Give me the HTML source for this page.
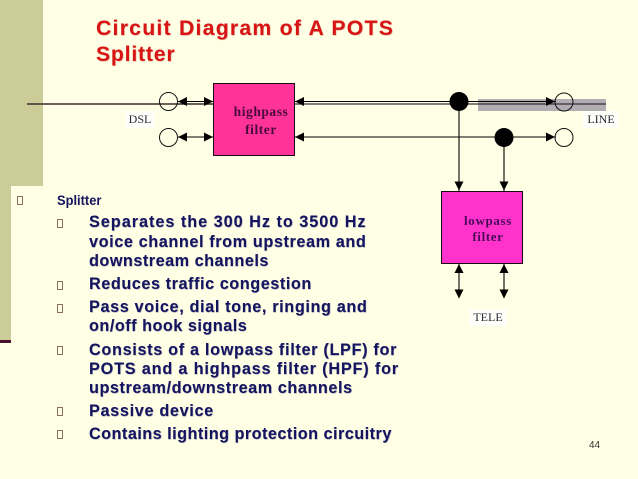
<!DOCTYPE html>
<html><head><meta charset="utf-8"><style>
html,body{margin:0;padding:0}
body{width:638px;height:479px;overflow:hidden;background:#ffffe5;position:relative;font-family:"Liberation Sans",sans-serif}
.t{position:absolute;white-space:nowrap}
.b{font-weight:bold;font-size:16.2px;line-height:19px;color:#14145f;left:89px;text-shadow:.4px .4px .6px #8a8aa8}
.m{position:absolute;width:4px;height:6.5px;border:1px solid #8a6f60;background:#ffffe5}
</style></head><body>
<div class="t" style="left:0;top:0;width:43px;height:186px;background:#cccc99"></div>
<div class="t" style="left:0;top:186px;width:11px;height:154px;background:#cccc99"></div>
<div class="t" style="left:0;top:340px;width:11px;height:3px;background:#4a1030"></div>
<div class="t" style="left:96px;top:16px;font-size:21.2px;line-height:26px;font-weight:bold;color:#d81414;letter-spacing:1.25px;text-shadow:.5px .5px .7px #d9a090">Circuit Diagram of A POTS</div>
<div class="t" style="left:96px;top:42px;font-size:21.2px;line-height:26px;font-weight:bold;color:#d81414;letter-spacing:.8px;text-shadow:.5px .5px .7px #d9a090">Splitter</div>
<svg class="t" style="left:0;top:0" width="638" height="479" viewBox="0 0 638 479">
<rect x="478" y="99" width="128" height="12" fill="#b0aeb0"/>
<line x1="27" y1="104" x2="213" y2="104" stroke="#3d2a2a" stroke-width="1.4"/>
<line x1="178" y1="101.500" x2="213" y2="101.500" stroke="#000" stroke-width="1"/>
<line x1="295" y1="101.500" x2="459" y2="101.500" stroke="#000" stroke-width="1.1"/>
<line x1="295" y1="104" x2="606" y2="104" stroke="#3d2a3a" stroke-width="1.2"/>
<line x1="459" y1="101.500" x2="556" y2="101.500" stroke="#000" stroke-width="1"/>
<line x1="178" y1="137" x2="213" y2="137" stroke="#000" stroke-width="1.1"/>
<line x1="295" y1="137" x2="556" y2="137" stroke="#000" stroke-width="1.1"/>
<line x1="459" y1="102" x2="459" y2="191" stroke="#000" stroke-width="1.1"/>
<line x1="504" y1="137" x2="504" y2="191" stroke="#000" stroke-width="1.1"/>
<line x1="459" y1="263" x2="459" y2="298" stroke="#000" stroke-width="1.1"/>
<line x1="504" y1="263" x2="504" y2="298" stroke="#000" stroke-width="1.1"/>
<rect x="213.500" y="83.500" width="81" height="72" fill="#ff3399" stroke="#1a0a14" stroke-width="1"/>
<rect x="441.500" y="191.500" width="81" height="72" fill="#ff33cc" stroke="#1a0a14" stroke-width="1"/>
<g fill="none" stroke="#111" stroke-width="1">
<circle cx="168.500" cy="101.500" r="9"/><circle cx="168.500" cy="137.500" r="9"/>
<circle cx="564" cy="102" r="9"/><circle cx="564" cy="137.500" r="9"/>
</g>
<circle cx="459" cy="101.500" r="9.500" fill="#000"/>
<circle cx="504" cy="137.500" r="9.500" fill="#000"/>
<g fill="#000">
<path d="M178 101.500l9-4.500v9zM213 101.500l-9-4.500v9z"/>
<path d="M178 137l9-4.500v9zM213 137l-9-4.500v9z"/>
<path d="M295 101.500l9-4.500v9zM295 137l9-4.500v9z"/>
<path d="M555 101.500l-9-4.500v9zM555 137l-9-4.500v9z"/>
<path d="M459 190.500l-4.500-9h9zM504 190.500l-4.500-9h9z"/>
<path d="M459 264l-4.500 9h9zM504 264l-4.500 9h9z"/>
<path d="M459 298.500l-4.500-9h9zM504 298.500l-4.500-9h9z"/>
</g>
</svg>
<div class="t" style="left:125px;top:111px;width:30px;height:17px;background:#fffffa;font:12px/17px 'Liberation Serif',serif;color:#2a2a3a;text-align:center">DSL</div>
<div class="t" style="left:583px;top:111px;width:36px;height:17px;background:#fffffa;font:12px/17px 'Liberation Serif',serif;color:#2a2a3a;text-align:center">LINE</div>
<div class="t" style="left:469px;top:309px;width:38px;height:17px;background:#fffffa;font:12px/17px 'Liberation Serif',serif;color:#2a2a3a;text-align:center">TELE</div>
<div class="t" style="left:233px;top:103px;width:56px;text-align:center;font:bold 13.5px/18px 'Liberation Serif',serif;letter-spacing:.55px;color:#4a0a3a">highpass<br>filter</div>
<div class="t" style="left:463px;top:212.500px;width:50px;text-align:center;font:bold 13px/16.500px 'Liberation Serif',serif;color:#4a0a5a;letter-spacing:.65px">lowpass<br>filter</div>
<div class="t" style="left:11px;top:186px;width:400px;height:250px;background:#ffffe5"></div>
<div class="m" style="left:17px;top:196px"></div>
<div class="t" style="left:57px;top:191px;font-size:14px;line-height:18px;color:#14145f;font-weight:bold;transform:scaleX(.92);transform-origin:left;">Splitter</div>
<div class="m" style="left:57px;top:219px"></div>
<div class="t b" style="top:213px;letter-spacing:1px">Separates the 300 Hz to 3500 Hz</div>
<div class="t b" style="top:232.500px;letter-spacing:.62px">voice channel from upstream and</div>
<div class="t b" style="top:251.500px;letter-spacing:.52px">downstream channels</div>
<div class="m" style="left:57px;top:281px"></div>
<div class="t b" style="top:275px;letter-spacing:.58px">Reduces traffic congestion</div>
<div class="m" style="left:57px;top:304px"></div>
<div class="t b" style="top:298px;letter-spacing:.65px">Pass voice, dial tone, ringing and</div>
<div class="t b" style="top:317px;letter-spacing:.52px">on/off hook signals</div>
<div class="m" style="left:57px;top:346px"></div>
<div class="t b" style="top:340.500px;letter-spacing:.7px">Consists of a lowpass filter (LPF) for</div>
<div class="t b" style="top:360px;letter-spacing:.84px">POTS and a highpass filter (HPF) for</div>
<div class="t b" style="top:379px;letter-spacing:.58px">upstream/downstream channels</div>
<div class="m" style="left:57px;top:407px"></div>
<div class="t b" style="top:402px;letter-spacing:.69px">Passive device</div>
<div class="m" style="left:57px;top:430px"></div>
<div class="t b" style="top:425px;letter-spacing:.49px">Contains lighting protection circuitry</div>
<div class="t" style="left:589px;top:440px;font-size:10px;line-height:12px;color:#333">44</div>
</body></html>
